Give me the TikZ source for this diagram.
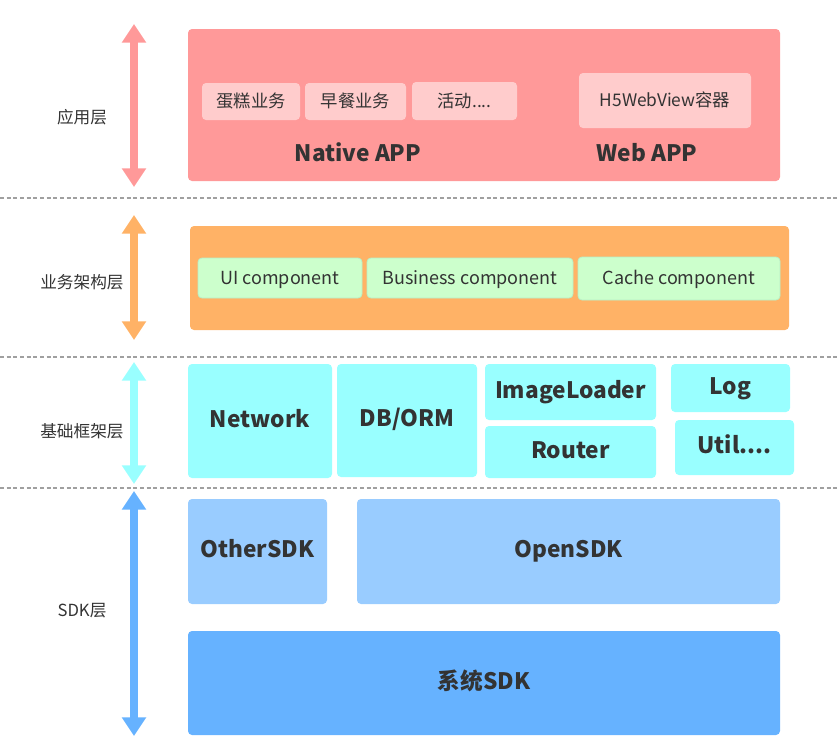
\documentclass[tikz,border=0pt]{standalone}
\usepackage{fontspec}
\setmainfont{Noto Sans CJK SC}
\usetikzlibrary{arrows.meta}
\definecolor{redA}{HTML}{FF9999}
\definecolor{redB}{HTML}{FFCCCC}
\definecolor{orgA}{HTML}{FFB266}
\definecolor{grnB}{HTML}{CCFFCC}
\definecolor{grnL}{HTML}{B8F0C8}
\definecolor{cyaA}{HTML}{99FFFF}
\definecolor{bluL}{HTML}{99CCFF}
\definecolor{bluA}{HTML}{66B2FF}
\definecolor{txt}{HTML}{333333}
\definecolor{dashc}{HTML}{A0A0A0}
\newcommand\bx[7]{\node[#6, minimum width={(#4-#2)*0.75pt}, minimum height={(#5-#3)*0.75pt}] (#1) at ({(#2+#4)/2},{(#3+#5)/2}) {#7};}
\tikzset{
  base/.style={inner sep=0pt, outer sep=0pt, rounded corners=3pt, text=txt, text height=0.95em, text depth=0pt},
  redbox/.style={base, fill=redA},
  pinkbox/.style={base, fill=redB, font=\fontsize{13}{15}\selectfont},
  orgbox/.style={base, fill=orgA},
  grnbox/.style={base, fill=grnB, draw=grnL, line width=0.6pt, font=\fontsize{13.5}{15}\selectfont},
  cyabox/.style={base, fill=cyaA, font=\bfseries\fontsize{17}{19}\selectfont},
  lbbox/.style={base, fill=bluL, font=\bfseries\fontsize{17}{19}\selectfont},
  bbox/.style={base, fill=bluA, font=\bfseries\fontsize{17}{19}\selectfont},
  bigtxt/.style={text=txt, inner sep=0pt, text height=0.95em, text depth=0pt, font=\bfseries\fontsize{17}{19}\selectfont},
  laytxt/.style={text=txt, inner sep=0pt, text height=0.95em, text depth=0pt, font=\fontsize{12.5}{14}\selectfont},
  layarrow/.style={line width=6pt, {Triangle[width=17.5pt,length=14pt]}-{Triangle[width=17.5pt,length=14pt]}},
  sep/.style={dashc, line width=0.8pt, dash pattern=on 3pt off 2pt}
}
\begin{document}
\begin{tikzpicture}[x=0.75pt,y=-0.75pt]
\useasboundingbox (0,0) rectangle (839,743);
% separators
\coordinate (s1a) at (0,198); \coordinate (s1b) at (839,198);
\coordinate (s2a) at (0,357); \coordinate (s2b) at (839,357);
\coordinate (s3a) at (0,488); \coordinate (s3b) at (839,488);
\draw[sep] (s1a) -- (s1b);
\draw[sep] (s2a) -- (s2b);
\draw[sep] (s3a) -- (s3b);
% arrows
\coordinate (a1t) at (134,24);  \coordinate (a1b) at (134,187);
\coordinate (a2t) at (134,215); \coordinate (a2b) at (134,340);
\coordinate (a3t) at (134,362); \coordinate (a3b) at (134,484);
\coordinate (a4t) at (134,491); \coordinate (a4b) at (134,736);
\draw[layarrow, redA] (a1t) -- (a1b);
\draw[layarrow, orgA] (a2t) -- (a2b);
\draw[layarrow, cyaA] (a3t) -- (a3b);
\draw[layarrow, bluA] (a4t) -- (a4b);
% layer labels
\node[laytxt] (l1) at (82,117) {应用层};
\node[laytxt] (l2) at (82,282) {业务架构层};
\node[laytxt] (l3) at (82,431) {基础框架层};
\node[laytxt] (l4) at (82,610) {SDK层};
% app layer
\bx{app}{188}{29}{780}{181}{redbox}{}
\bx{cake}{202}{83}{300}{120}{pinkbox}{蛋糕业务}
\bx{breakfast}{305}{83}{406}{120}{pinkbox}{早餐业务}
\bx{activity}{412}{82}{517}{120}{pinkbox}{活动....}
\bx{h5}{579}{73}{751}{128}{pinkbox}{H5WebView容器}
\node[bigtxt] (native) at (358,155) {Native APP};
\node[bigtxt] (web) at (647,155) {Web APP};
% business layer
\bx{biz}{190}{226}{789}{330}{orgbox}{}
\bx{ui}{198}{258}{362}{298}{grnbox}{UI component}
\bx{bc}{367}{258}{573}{298}{grnbox}{Business component}
\bx{cc}{578}{257}{780}{300}{grnbox}{Cache component}
% framework layer
\bx{net}{188}{364}{332}{478}{cyabox}{Network}
\bx{db}{337}{364}{477}{477}{cyabox}{DB/ORM}
\bx{img}{485}{364}{656}{420}{cyabox}{ImageLoader}
\bx{router}{485}{426}{656}{478}{cyabox}{Router}
\bx{log}{671}{364}{790}{412}{cyabox}{Log}
\bx{util}{675}{420}{794}{475}{cyabox}{Util....}
% sdk layer
\bx{other}{188}{499}{327}{604}{lbbox}{OtherSDK}
\bx{open}{357}{499}{780}{604}{lbbox}{OpenSDK}
\bx{sys}{188}{631}{780}{735}{bbox}{系统SDK}
\end{tikzpicture}
\end{document}
